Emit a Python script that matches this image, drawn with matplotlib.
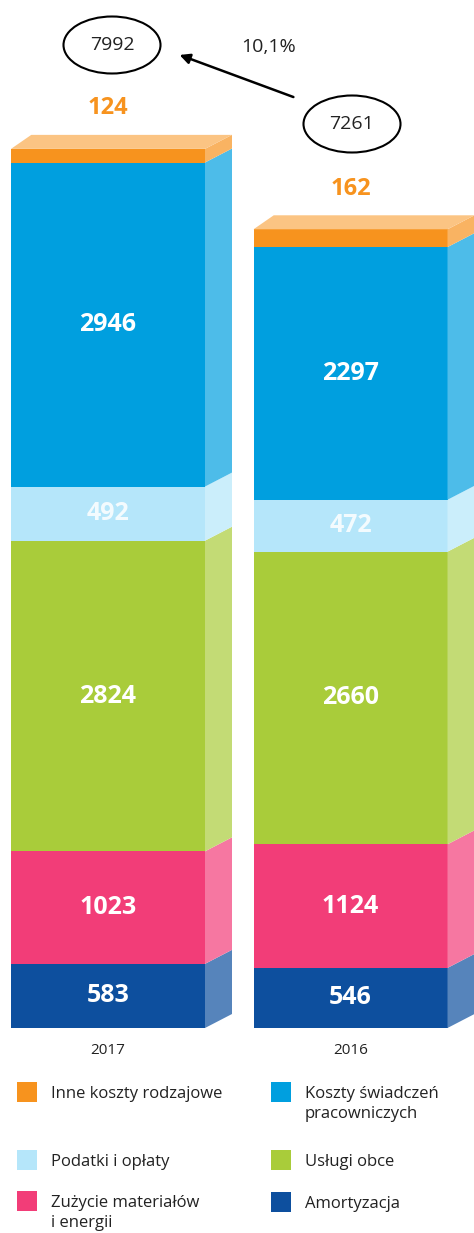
import matplotlib
matplotlib.use("Agg")
import matplotlib.pyplot as plt
from matplotlib.patches import Polygon, Ellipse, Rectangle
from matplotlib.colors import to_rgb
import numpy as np

plt.rcParams['font.family'] = ['Open Sans', 'DejaVu Sans']

# ---- data ----
years = ["2017", "2016"]
categories = ["Amortyzacja", "Zużycie materiałów\ni energii", "Usługi obce",
              "Podatki i opłaty", "Koszty świadczeń\npracowniczych", "Inne koszty rodzajowe"]
values_2017 = [583, 1023, 2824, 492, 2946, 124]
values_2016 = [546, 1124, 2660, 472, 2297, 162]
totals = [7992, 7261]
change_label = "10,1%"
colors = ["#0D4F9E", "#F23D78", "#A9CC3A", "#B5E6FA", "#009FDF", "#F7931E"]
legend_order = [5, 4, 3, 2, 1, 0]

W, H = 474, 1233
fig = plt.figure(figsize=(W / 100, H / 100), dpi=100)
ax = fig.add_axes([0, 0, 1, 1])
px_per_unit = 0.11
base_px = 1028
ax.set_ylim(-(H - base_px) / px_per_unit, base_px / px_per_unit)
unit_px = 242.5
ax.set_xlim(-108 / unit_px, (W - 108) / unit_px)
ax.axis("off")

bar_w = 0.8
dx = 27 / unit_px
dy = 14 / px_per_unit


def lighten(c, f):
    r = np.array(to_rgb(c))
    return tuple(r + (1 - r) * f)


series = [values_2017, values_2016]
xs = np.arange(len(years))
for xi, vals in zip(xs, series):
    bottom = 0
    x0 = xi - bar_w / 2
    x1 = xi + bar_w / 2
    for k, (v, c) in enumerate(zip(vals, colors)):
        ax.bar(xi, v, bottom=bottom, width=bar_w, color=c, edgecolor="none", zorder=2)
        side = Polygon([(x1, bottom), (x1 + dx, bottom + dy), (x1 + dx, bottom + v + dy), (x1, bottom + v)],
                       closed=True, facecolor=lighten(c, 0.3), edgecolor="none", zorder=2)
        ax.add_patch(side)
        if k < len(vals) - 1:
            ax.text(xi, bottom + v / 2, str(v), ha="center", va="center", color="white",
                    fontsize=18, fontweight="bold", zorder=3,
                    alpha=0.85 if k == 3 else 1.0)
        bottom += v
    top = Polygon([(x0, bottom), (x1, bottom), (x1 + dx, bottom + dy), (x0 + dx * 0.75, bottom + dy)],
                  closed=True, facecolor=lighten(colors[-1], 0.45), edgecolor="none", zorder=2)
    ax.add_patch(top)
    ax.text(xi, bottom + dy + 240, str(vals[-1]), ha="center", va="center", color=colors[-1],
            fontsize=17, fontweight="bold")
    ax.text(xi, -200, years[xi], ha="center", va="center", fontsize=11, color="#222222")


def fx(px):
    return px / W


def fy(py):
    return 1 - py / H


# total ellipses
ell_pos = [(112, 45), (352, 124)]
for (cx, cy), t in zip(ell_pos, totals):
    e = Ellipse((fx(cx), fy(cy)), 97 / W, 57 / H, transform=fig.transFigure,
                facecolor="none", edgecolor="black", lw=1.5)
    fig.patches.append(e)
    fig.text(fx(cx), fy(cy), str(t), ha="center", va="center", fontsize=14, color="#222222")

ax.annotate("", xy=(fx(177), fy(54)), xytext=(fx(296), fy(98)),
            xycoords="figure fraction", textcoords="figure fraction",
            arrowprops=dict(arrowstyle="-|>", color="black", lw=1.8, mutation_scale=15))
fig.text(fx(269), fy(47), change_label, ha="center", va="center", fontsize=14, color="#222222")

# legend
slots = [(17, 1092), (271, 1092), (17, 1160), (271, 1160), (17, 1201), (271, 1202)]
for (sx, sy), idx in zip(slots, legend_order):
    r = Rectangle((fx(sx), fy(sy + 10)), 20 / W, 20 / H, transform=fig.transFigure,
                  facecolor=colors[idx], edgecolor="none")
    fig.patches.append(r)
    fig.text(fx(sx + 34), fy(sy - 6), categories[idx], ha="left", va="top", fontsize=12,
             color="#222222", linespacing=1.3)

fig.savefig("out.png", dpi=100, facecolor="white")
